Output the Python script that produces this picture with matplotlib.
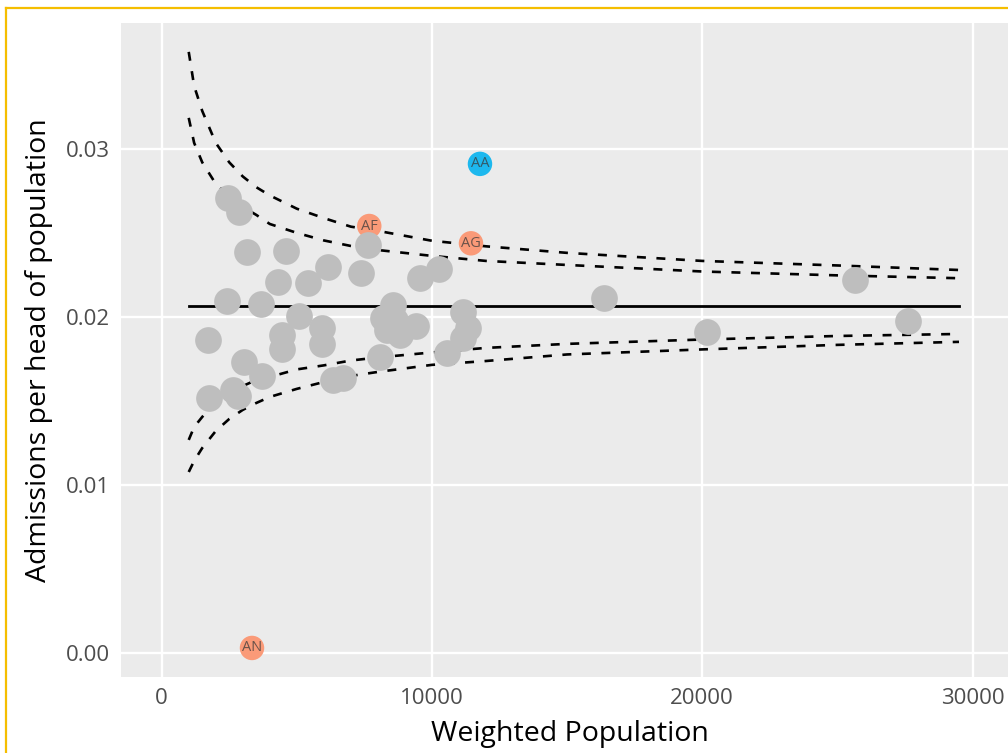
"""
Funnel plot of admissions per head against weighted population.
"""

import matplotlib
matplotlib.use("Agg")
import matplotlib.pyplot as plt
from matplotlib.lines import Line2D

plt.rcParams['font.family'] = ['Open Sans', 'DejaVu Sans']

# units that sit inside the limits (grey)
pop_grey = [2464, 2871, 3167, 4599, 4314, 6164, 5401, 7373, 7643, 9556,
            10270, 2405, 3674, 5080, 1724, 4462, 4440, 5919, 5919, 3056,
            3700, 1761, 2627, 2834, 6326, 6718, 8076, 8568, 8198, 8324,
            8816, 9397, 8631, 11158, 11343, 11158, 10544, 16363, 20185,
            25660, 27599]
rate_grey = [0.02706, 0.02627, 0.02388, 0.02394, 0.02206, 0.02299, 0.02200,
             0.02263, 0.02428, 0.02230, 0.02284, 0.02096, 0.02077, 0.02007,
             0.01862, 0.01890, 0.01807, 0.01932, 0.01839, 0.01733, 0.01648,
             0.01515, 0.01565, 0.01529, 0.01624, 0.01634, 0.01763, 0.02071,
             0.01992, 0.01922, 0.01892, 0.01948, 0.01982, 0.02027, 0.01932,
             0.01873, 0.01787, 0.02113, 0.01912, 0.02220, 0.01977]

# labelled outliers
out_labels = ['AA', 'AF', 'AG', 'AN']
out_pop = [11776, 7680, 11443, 3341]
out_rate = [0.02911, 0.02541, 0.02438, 0.00028]
out_colors = ['#1DB8EE', '#FA9A78', '#FA9A78', '#FA9A78']

# overall rate and control limits
mean_rate = 0.02062
mean_pop = [1000, 29500]
limit_pop = [1000, 1200, 1500, 2000, 2500, 3000, 3500, 4000, 5000, 6000,
             7000, 8000, 10000, 12000, 15000, 20000, 25000, 29500]
upper_outer = [0.03578, 0.03375, 0.03226, 0.03036, 0.02920, 0.02836, 0.02772,
               0.02723, 0.02644, 0.02588, 0.02537, 0.02512, 0.02453, 0.02420,
               0.02381, 0.02333, 0.02306, 0.02279]
upper_inner = [0.03185, 0.03036, 0.02920, 0.02792, 0.02720, 0.02655, 0.02607,
               0.02553, 0.02500, 0.02455, 0.02422, 0.02398, 0.02363, 0.02333,
               0.02309, 0.02270, 0.02247, 0.02230]
lower_inner = [0.01267, 0.01344, 0.01404, 0.01493, 0.01547, 0.01588, 0.01624,
               0.01642, 0.01687, 0.01711, 0.01740, 0.01758, 0.01788, 0.01815,
               0.01839, 0.01865, 0.01886, 0.01898]
lower_outer = [0.01076, 0.01142, 0.01219, 0.01320, 0.01392, 0.01446, 0.01487,
               0.01523, 0.01571, 0.01612, 0.01648, 0.01672, 0.01714, 0.01737,
               0.01776, 0.01806, 0.01833, 0.01851]

x_ticks = [0, 10000, 20000, 30000]
y_ticks = [0.00, 0.01, 0.02, 0.03]

fig = plt.figure(figsize=(10.08, 7.53), dpi=100)
fig.patch.set_facecolor('white')

# panel runs past the right edge of the picture
ax = fig.add_axes([121 / 1008, 76 / 753, 898 / 1008, 654 / 753])
ax.set_facecolor('#EBEBEB')
for s in ax.spines.values():
    s.set_visible(False)

ax.set_xlim(-1506, 31720)
ax.set_ylim(-0.00145, 0.0375)
ax.set_xticks(x_ticks)
ax.set_yticks(y_ticks)
ax.set_xticklabels([str(t) for t in x_ticks])
ax.set_yticklabels([f'{t:.2f}' for t in y_ticks])
ax.tick_params(length=0, labelsize=16, labelcolor='#4D4D4D')
ax.tick_params(axis='x', pad=8)
ax.tick_params(axis='y', pad=8)
ax.grid(True, color='white', linewidth=1.7)
ax.set_axisbelow(True)

# mean and funnel limits
ax.plot(mean_pop, [mean_rate, mean_rate], color='black', linewidth=2.0, zorder=2)
for lim in (upper_outer, upper_inner, lower_inner, lower_outer):
    ax.plot(limit_pop, lim, color='black', linewidth=1.9,
            dashes=(3.4, 4.0), zorder=2)

# outliers with their labels
ax.scatter(out_pop, out_rate, s=310, c=out_colors, linewidths=0, zorder=3)
for lab, px, py in zip(out_labels, out_pop, out_rate):
    ax.text(px, py, lab, ha='center', va='center', fontsize=10.5,
            color='#3A3A3A', alpha=0.75, zorder=4)

# everyone else
ax.scatter(pop_grey, rate_grey, s=370, c='#BEBEBE', linewidths=0, zorder=5)

ax.set_xlabel('Weighted Population', fontsize=20.5, color='black', labelpad=8)
ax.set_ylabel('Admissions per head of population', fontsize=20.5,
              color='black', labelpad=9)

# gold frame around the figure (only top and left show)
gold = '#F5BE00'
fig.add_artist(Line2D([6 / 1008, 1.01], [1 - 8 / 753, 1 - 8 / 753],
                      color=gold, linewidth=1.6, transform=fig.transFigure))
fig.add_artist(Line2D([6 / 1008, 6 / 1008], [-0.01, 1 - 8 / 753],
                      color=gold, linewidth=1.6, transform=fig.transFigure))

fig.savefig('out.png', dpi=100)
